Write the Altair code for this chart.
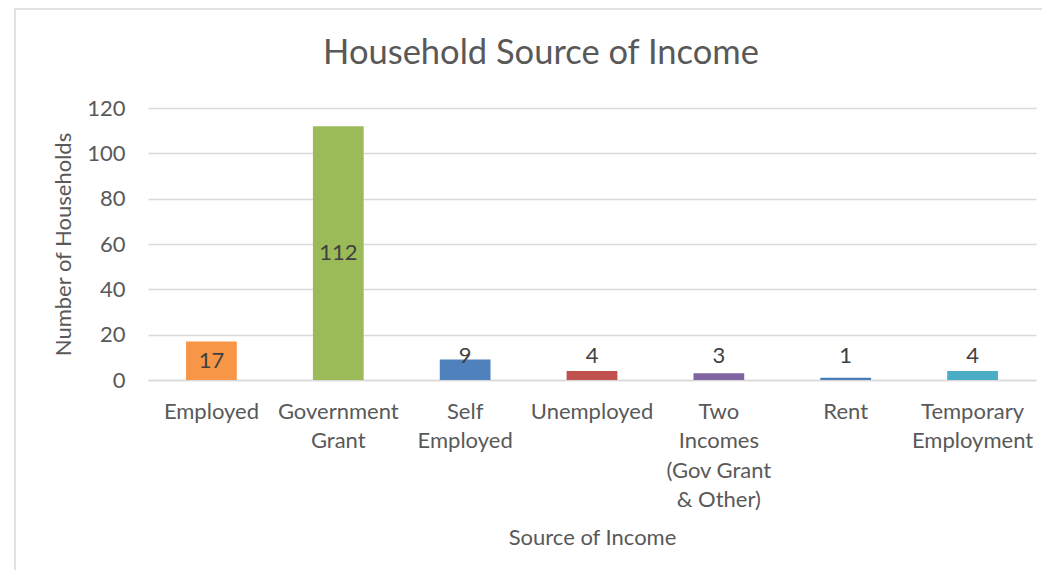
import altair as alt
import pandas as pd

categories = ["Employed", "Government|Grant", "Self|Employed", "Unemployed",
              "Two|Incomes|(Gov Grant|& Other)", "Rent", "Temporary|Employment"]
values = [17, 112, 9, 4, 3, 1, 4]
colors = ["#F79646", "#9BBB59", "#4F81BD", "#C0504D", "#8064A2", "#4A7EBB", "#4BACC6"]
y_ticks = [0, 20, 40, 60, 80, 100, 120]

df = pd.DataFrame({"cat": categories, "value": values})

FONT = "Lato"
GREY = "#595959"

x_enc = alt.X("cat:N", sort=categories,
              scale=alt.Scale(paddingInner=0.6, paddingOuter=0.3),
              axis=alt.Axis(title="Source of Income", labelAngle=0,
                            labelExpr="split(datum.value, '|')",
                            labelLineHeight=29.5, labelPadding=21,
                            labelFontSize=22, labelColor=GREY, labelFont=FONT,
                            titleFontSize=22, titleColor=GREY, titleFont=FONT,
                            titleFontWeight="normal", titlePadding=17,
                            domain=True, domainColor="#D9D9D9", domainWidth=1.5,
                            ticks=False, tickSize=0, grid=False))

y_scale = alt.Scale(domain=[0, 120], nice=False)

bars = alt.Chart(df).mark_bar().encode(
    x=x_enc,
    y=alt.Y("value:Q", scale=y_scale,
            axis=alt.Axis(title="Number of Households", values=y_ticks,
                          domain=False, ticks=False, tickSize=0,
                          labelPadding=23, labelFontSize=22, labelColor=GREY,
                          labelFont=FONT, titleFontSize=22, titleColor=GREY,
                          titleFont=FONT, titleFontWeight="normal",
                          titlePadding=11, gridColor="#D9D9D9", gridWidth=1.3)),
    color=alt.Color("cat:N", sort=categories,
                    scale=alt.Scale(domain=categories, range=colors), legend=None),
)

labels = alt.Chart(df).transform_calculate(
    ly="datum.value >= 15 ? datum.value / 2 : 10.6"
).mark_text(fontSize=22, font=FONT, color="#404040", baseline="middle", align="center").encode(
    x=alt.X("cat:N", sort=categories),
    y=alt.Y("ly:Q", scale=y_scale),
    text=alt.Text("value:Q"),
)

border = alt.Chart(pd.DataFrame({"a": [0]})).mark_rect(
    fill=None, stroke="#D9D9D9", strokeWidth=1.5
).encode(
    x=alt.value(-133), x2=alt.value(1000), y=alt.value(-99), y2=alt.value(700)
)

chart = alt.layer(border, bars, labels).properties(
    width=888, height=272,
    title=alt.TitleParams("Household Source of Income", fontSize=34.5, font=FONT,
                          color=GREY, fontWeight="normal", anchor="middle",
                          dx=-51, dy=63, offset=0),
    padding={"left": 140, "top": 100, "right": 6, "bottom": 190},
    autosize=alt.AutoSizeParams(type="none"),
).configure_view(stroke=None)

chart.save("out.html", embed_options={"renderer": "svg", "actions": False})
